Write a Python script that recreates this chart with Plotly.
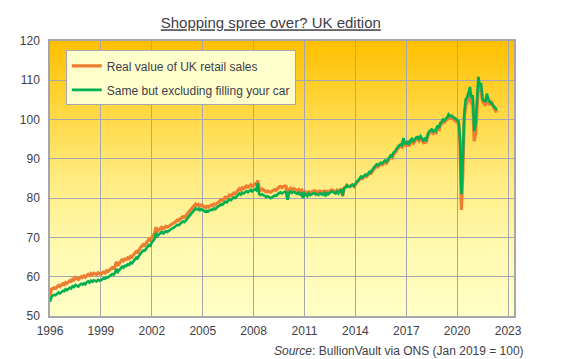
import base64
import pandas as pd
import plotly.graph_objects as go

# ---------------- data (monthly, Jan 1996 = first value) ----------------
start_month = "1996-01-01"

all_retail = [
    55.2, 56.8, 57.0, 57.2, 57.0, 57.6, 57.8, 57.5, 57.9, 58.2, 58.0, 58.5,   # 1996
    58.3, 58.6, 59.0, 58.8, 59.4, 59.2, 59.8, 59.6, 59.3, 59.7, 60.0, 59.8,   # 1997
    60.2, 59.9, 60.4, 60.6, 60.3, 60.8, 60.5, 60.9, 60.7, 60.6, 61.0, 60.8,   # 1998
    60.6, 61.0, 61.2, 61.0, 61.5, 61.3, 61.8, 62.0, 62.3, 62.1, 62.6, 63.8,   # 1999
    62.8, 63.5, 63.9, 64.3, 64.0, 64.5, 64.4, 64.8, 64.6, 65.2, 65.0, 65.6,   # 2000
    66.0, 66.4, 66.2, 66.9, 67.4, 67.8, 68.2, 68.0, 68.5, 69.0, 69.6, 69.3,   # 2001
    70.2, 70.6, 71.0, 72.6, 71.6, 72.0, 72.3, 72.6, 72.2, 72.5, 72.8, 72.6,   # 2002
    72.9, 73.0, 73.4, 73.6, 73.8, 74.0, 74.4, 74.3, 74.7, 75.0, 75.3, 75.1,   # 2003
    75.4, 76.0, 76.4, 77.0, 77.4, 77.8, 78.0, 78.5, 78.2, 78.4, 78.0, 78.3,   # 2004
    78.1, 77.8, 77.6, 77.9, 77.7, 78.0, 78.2, 78.1, 78.5, 78.3, 78.7, 79.0,   # 2005
    79.2, 79.6, 79.4, 79.8, 80.2, 80.0, 80.4, 80.8, 80.6, 81.0, 81.3, 81.1,   # 2006
    81.5, 82.0, 82.4, 82.1, 82.6, 82.4, 82.9, 83.1, 82.8, 83.2, 83.4, 83.0,   # 2007
    83.3, 83.6, 83.2, 84.5, 82.3, 82.0, 82.3, 82.0, 81.9, 81.6, 81.8, 81.7,   # 2008
    81.5, 81.8, 81.9, 82.2, 82.0, 82.5, 82.8, 83.0, 82.7, 82.9, 83.1, 83.0,   # 2009
    79.8, 82.2, 82.5, 82.1, 82.4, 82.3, 82.0, 81.9, 82.2, 81.7, 82.0, 80.4,   # 2010
    81.8, 81.5, 81.0, 81.8, 81.3, 81.6, 81.7, 81.9, 81.5, 81.7, 81.4, 81.8,   # 2011
    81.6, 81.4, 82.0, 81.0, 81.7, 81.5, 81.8, 82.1, 82.0, 81.8, 81.6, 82.0,   # 2012
    81.5, 82.0, 82.4, 80.5, 82.6, 82.8, 83.3, 83.0, 82.9, 83.2, 83.4, 83.0,   # 2013
    83.6, 84.0, 84.3, 84.7, 85.2, 85.0, 85.4, 85.7, 85.5, 85.9, 86.4, 86.3,   # 2014
    87.0, 87.4, 87.7, 88.2, 88.0, 88.4, 88.6, 88.5, 89.0, 89.2, 88.9, 89.4,   # 2015
    90.0, 90.5, 90.3, 91.2, 91.5, 92.2, 92.6, 93.0, 93.2, 93.0, 94.8, 93.5,   # 2016
    93.4, 93.8, 93.2, 94.3, 94.6, 94.0, 94.5, 94.9, 95.1, 94.6, 95.3, 94.8,   # 2017
    94.2, 94.6, 94.0, 95.5, 96.4, 96.7, 97.0, 96.5, 96.8, 96.6, 97.9, 97.2,   # 2018
    98.6, 98.9, 99.5, 99.3, 99.6, 100.1, 100.8, 100.3, 100.5, 100.2, 99.9, 99.7,  # 2019
    99.4, 98.9, 94.0, 77.0, 86.4, 100.5, 103.4, 104.3, 105.4, 106.6, 103.9, 104.6,  # 2020
    94.5, 96.5, 102.3, 108.6, 107.3, 107.2, 104.6, 103.9, 103.6, 104.6, 105.4, 103.6,  # 2021
    104.7, 103.8, 103.0, 102.4, 101.8,                                          # 2022
]

ex_fuel = [
    53.6, 54.9, 55.2, 55.4, 55.3, 55.8, 56.0, 55.7, 56.2, 56.4, 56.3, 56.8,   # 1996
    56.6, 56.9, 57.2, 57.0, 57.6, 57.4, 57.9, 57.7, 57.5, 57.9, 58.2, 58.0,   # 1997
    58.3, 58.1, 58.6, 58.8, 58.5, 59.0, 58.7, 59.1, 58.9, 58.8, 59.2, 59.0,   # 1998
    59.1, 59.4, 59.6, 59.5, 59.9, 59.8, 60.2, 60.4, 60.7, 60.5, 61.0, 62.0,   # 1999
    61.2, 61.8, 62.2, 62.6, 62.3, 62.8, 62.7, 63.2, 63.0, 63.6, 63.4, 64.0,   # 2000
    64.4, 64.9, 64.7, 65.4, 65.9, 66.3, 66.7, 66.6, 67.0, 67.6, 68.1, 67.9,   # 2001
    68.7, 69.2, 69.6, 71.1, 70.3, 70.7, 71.0, 71.4, 71.0, 71.3, 71.6, 71.4,   # 2002
    71.7, 71.8, 72.2, 72.4, 72.6, 72.8, 73.2, 73.1, 73.5, 73.8, 74.1, 73.9,   # 2003
    74.2, 74.8, 75.2, 75.8, 76.2, 76.6, 76.9, 77.4, 77.1, 77.3, 76.9, 77.2,   # 2004
    77.0, 76.7, 76.5, 76.8, 76.6, 76.9, 77.1, 77.0, 77.4, 77.2, 77.6, 77.9,   # 2005
    78.1, 78.5, 78.3, 78.7, 79.1, 78.9, 79.3, 79.7, 79.5, 79.9, 80.2, 80.0,   # 2006
    80.4, 80.8, 81.2, 80.9, 81.4, 81.2, 81.6, 81.8, 81.5, 81.9, 82.1, 81.7,   # 2007
    82.0, 82.3, 82.0, 83.8, 81.0, 80.8, 81.0, 80.7, 80.6, 80.3, 80.5, 80.2,   # 2008
    80.0, 80.2, 80.4, 80.7, 80.6, 81.0, 81.3, 81.5, 81.2, 81.4, 81.6, 81.5,   # 2009
    79.6, 81.4, 81.7, 81.3, 81.6, 81.5, 81.2, 81.1, 81.4, 80.9, 81.2, 80.0,   # 2010
    81.2, 80.9, 80.5, 81.2, 80.8, 81.0, 81.1, 81.3, 80.9, 81.1, 80.8, 81.2,   # 2011
    81.0, 80.9, 81.5, 80.5, 81.2, 81.0, 81.4, 81.7, 81.6, 81.4, 81.2, 81.7,   # 2012
    81.2, 81.8, 82.2, 80.6, 82.5, 82.7, 83.2, 82.9, 82.9, 83.2, 83.4, 83.1,   # 2013
    83.8, 84.2, 84.5, 85.0, 85.5, 85.3, 85.7, 86.0, 85.8, 86.2, 86.7, 86.6,   # 2014
    87.3, 87.8, 88.1, 88.6, 88.4, 88.8, 89.0, 88.9, 89.4, 89.6, 89.3, 89.8,   # 2015
    90.4, 90.9, 90.7, 91.6, 91.9, 92.6, 93.0, 93.4, 93.7, 93.5, 95.3, 94.0,   # 2016
    93.9, 94.3, 93.7, 94.8, 95.1, 94.5, 95.0, 95.4, 95.6, 95.1, 95.8, 95.3,   # 2017
    94.7, 95.1, 94.5, 96.0, 96.9, 97.2, 97.5, 97.0, 97.3, 97.1, 98.5, 97.8,   # 2018
    99.1, 99.4, 100.0, 99.8, 100.1, 100.6, 101.3, 100.8, 101.0, 100.7, 100.4, 100.2,  # 2019
    100.0, 99.6, 95.2, 81.0, 89.8, 101.5, 105.1, 105.6, 106.8, 108.3, 105.5, 106.2,  # 2020
    97.0, 99.0, 104.5, 110.9, 108.7, 108.9, 105.2, 104.8, 104.7, 106.6, 105.2, 104.5,  # 2021
    104.3, 103.6, 103.3, 103.0, 102.4,                                          # 2022
]

series_names = ["Real value of UK retail sales", "Same but excluding filling your car"]
series_colors = ["#ED7D31", "#00B050"]
year_ticks = ["1996", "1999", "2002", "2005", "2008", "2011", "2014", "2017", "2020", "2023"]
value_ticks = [50, 60, 70, 80, 90, 100, 110, 120]

months = pd.date_range(start_month, periods=len(all_retail), freq="MS")

# ---------------- background gradient image ----------------
svg = (
    '<svg xmlns="http://www.w3.org/2000/svg" width="100" height="100" '
    'viewBox="0 0 100 100" preserveAspectRatio="none">'
    '<defs><linearGradient id="g" x1="0" y1="0" x2="0" y2="1">'
    '<stop offset="0" stop-color="#FFC000"/>'
    '<stop offset="0.25" stop-color="#FFD740"/>'
    '<stop offset="0.5" stop-color="#FFEB80"/>'
    '<stop offset="0.75" stop-color="#FFF9B0"/>'
    '<stop offset="1" stop-color="#FFFFC6"/>'
    '</linearGradient></defs>'
    '<rect x="0" y="0" width="100" height="100" fill="url(#g)"/></svg>'
)
bg_src = "data:image/svg+xml;base64," + base64.b64encode(svg.encode()).decode()

FONT = "Liberation Sans, Arial, sans-serif"
TXT = "#404048"
GRID = "#A6A6AE"

fig = go.Figure()
for i, (vals, name, col, w) in enumerate(
    zip([all_retail, ex_fuel], series_names, series_colors, [3.2, 2.6])
):
    fig.add_trace(go.Scatter(
        x=months, y=vals, mode="lines", name=name,
        line=dict(color=col, width=w),
        legendgroup=f"g{i}",
    ))

fig.update_layout(
    width=564, height=359,
    margin=dict(l=42, r=58, t=33, b=51),
    paper_bgcolor="white",
    plot_bgcolor="rgba(0,0,0,0)",
    font=dict(family=FONT, size=12, color=TXT),
    title=dict(
        text="<u>Shopping spree over? UK edition</u>",
        x=0.466, xanchor="center", y=0.958, yanchor="middle",
        font=dict(family=FONT, size=15, color=TXT),
    ),
    showlegend=True,
    legend=dict(
        x=0.034, y=0.966, xanchor="left", yanchor="top",
        bgcolor="#FFFFCC", bordercolor=GRID, borderwidth=1,
        font=dict(family=FONT, size=12, color=TXT),
        tracegroupgap=5, traceorder="grouped",
    ),
    images=[dict(
        source=bg_src, xref="paper", yref="paper", x=0, y=1,
        sizex=1, sizey=1, sizing="stretch", layer="below",
        xanchor="left", yanchor="top",
    )],
    annotations=[dict(
        text="<i>Source</i>: BullionVault via ONS (Jan 2019 = 100)",
        xref="paper", yref="paper", x=1.026, y=-0.127,
        xanchor="right", yanchor="middle", showarrow=False,
        font=dict(family=FONT, size=12, color=TXT),
    )],
)

fig.update_xaxes(
    type="date",
    range=["1996-01-01", "2023-05-08"],
    tickvals=pd.to_datetime([f"{y}-01-01" for y in year_ticks]),
    ticktext=year_ticks,
    showgrid=True, gridcolor=GRID, gridwidth=1,
    showline=True, linecolor=GRID, linewidth=1.5, mirror=True,
    ticks="", ticklen=0, ticklabelstandoff=3,
    tickfont=dict(family=FONT, size=12, color=TXT),
    zeroline=False,
)
fig.update_yaxes(
    range=[50, 120],
    tickvals=value_ticks,
    showgrid=True, gridcolor=GRID, gridwidth=1,
    showline=True, linecolor=GRID, linewidth=1.5, mirror=True,
    ticks="", ticklen=0, ticklabelstandoff=6,
    tickfont=dict(family=FONT, size=12, color=TXT),
    zeroline=False,
)

fig.write_html("out.html")
